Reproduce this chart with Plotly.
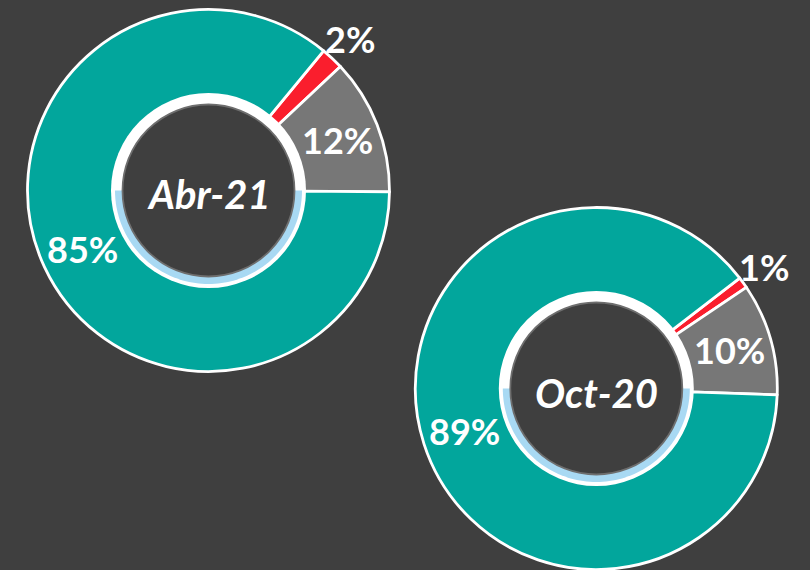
import math
import plotly.graph_objects as go

# ---- data ----
periods = ["Abr-21", "Oct-20"]
categories = ["Rojo", "Gris", "Verde"]
abr21_values = [2, 12, 85]
oct20_values = [1, 10, 89]

# ---- styles ----
W, H = 810, 570
BG = "#3F3F3F"
colors = ["#FA1E2D", "#777777", "#02A69C"]
FONT = "Lato"

charts = [
    dict(name=periods[0], values=abr21_values, cx=208.5, cy=190.5, r=181, rot=39.5),
    dict(name=periods[1], values=oct20_values, cx=596.3, cy=388.5, r=181, rot=52.4),
]

fig = go.Figure()
shapes = []
annotations = []


def to_paper(px, py):
    return px / W, (H - py) / H


for ch in charts:
    cx, cy, r = ch["cx"], ch["cy"], ch["r"]
    fig.add_trace(go.Pie(
        labels=categories,
        values=ch["values"],
        sort=False,
        direction="clockwise",
        rotation=ch["rot"],
        hole=0.52,
        marker=dict(colors=colors, line=dict(color="white", width=2.8)),
        textinfo="none",
        hoverinfo="skip",
        showlegend=False,
        domain=dict(x=[(cx - r) / W, (cx + r) / W], y=[(H - cy - r) / H, (H - cy + r) / H]),
    ))

    # inner decorations: white ring, light-blue half band, dark disc
    def circle(rad, fill, line_color=None, line_width=0):
        x0, y0 = to_paper(cx - rad, cy + rad)
        x1, y1 = to_paper(cx + rad, cy - rad)
        return dict(type="circle", xref="paper", yref="paper", x0=x0, y0=y0, x1=x1, y1=y1,
                    fillcolor=fill, line=dict(color=line_color or fill, width=line_width),
                    layer="above")

    shapes.append(circle(97.5, "white"))
    pts = []
    n = 90
    rb = 93.5
    for k in range(n + 1):
        t = math.pi * k / n
        px, py = to_paper(cx + rb * math.cos(t), cy + rb * math.sin(t))
        pts.append(f"{px:.5f},{py:.5f}")
    path = "M " + " L ".join(pts) + " Z"
    shapes.append(dict(type="path", xref="paper", yref="paper", path=path,
                       fillcolor="#A8D9F3", line=dict(width=0), layer="above"))
    shapes.append(circle(86, BG, "#6E6E6E", 1.8))

    # centre label
    x, y = to_paper(cx, cy + 4)
    annotations.append(dict(x=x, y=y, xref="paper", yref="paper", text=ch["name"],
                            showarrow=False, xanchor="center", yanchor="middle",
                            font=dict(family=FONT, size=40, color="white", weight="bold", style="italic")))

    # percentage labels derived from the values
    total = sum(ch["values"])
    cum = 0
    r_in = (0.535 * r + r) / 2
    for v in ch["values"]:
        mid = ch["rot"] + 360 * (cum + v / 2) / total
        cum += v
        rr = r_in if v >= 5 else r + 26
        a = math.radians(mid)
        px = cx + rr * math.sin(a)
        py = cy - rr * math.cos(a)
        x, y = to_paper(px, py)
        annotations.append(dict(x=x, y=y, xref="paper", yref="paper", text=f"{v}%",
                                showarrow=False, xanchor="center", yanchor="middle",
                                font=dict(family=FONT, size=36, color="white", weight="bold")))

fig.update_layout(
    width=W, height=H,
    margin=dict(l=0, r=0, t=0, b=0),
    paper_bgcolor=BG, plot_bgcolor=BG,
    shapes=shapes, annotations=annotations,
)

fig.write_html(
    "out.html",
    config={"displayModeBar": False},
    post_script="document.body.style.margin='0';document.body.style.overflow='hidden';"
                "document.body.style.background='" + BG + "';",
)
